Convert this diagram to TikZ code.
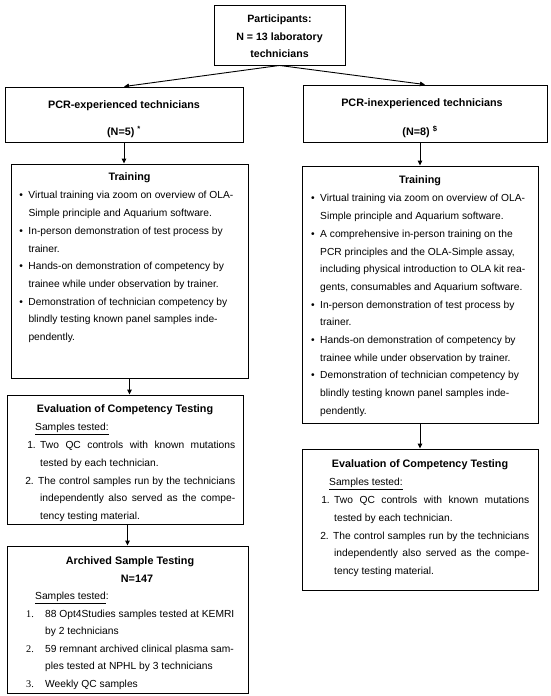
\documentclass[tikz,border=0pt]{standalone}
\usepackage{fontspec}
\setmainfont{Liberation Sans}
\newfontfamily\tnr{Liberation Serif}
\usetikzlibrary{arrows.meta}
\newcommand{\fl}{\rule{0pt}{10pt}}
\newcommand{\bul}{\llap{\textbullet\hspace{5.5pt}}}
\newcommand{\numa}[1]{\llap{#1\hspace{4.4pt}}}
\newcommand{\numb}[1]{\llap{{\tnr #1}\hspace{11.3pt}}}
\begin{document}
\begin{tikzpicture}[x=1pt,y=-1pt,
  box/.style={draw, line width=0.9pt, inner sep=0pt},
  arr/.style={draw, line width=0.9pt, -{Triangle[length=5pt,width=4.5pt]}},
  ttl/.style={anchor=base, inner sep=0pt, font=\fontsize{10.8}{17.5}\selectfont\bfseries},
  body/.style={anchor=north west, inner sep=0pt, align=left, font=\fontsize{10.25}{17.7}\selectfont},
]
\useasboundingbox (0,0) rectangle (550,696);
\fill[white] (0,0) rectangle (550,696);

% top
\node[box, minimum width=131pt, minimum height=60pt] (top) at (279.5,35) {};
\node[ttl, align=center, anchor=north, font=\fontsize{10.6}{17.5}\selectfont\bfseries] (toptxt) at (279.5,12.5) {\fl Participants:\\N = 13 laboratory\\technicians};

% experienced
\node[box, minimum width=238pt, minimum height=55pt] (exp) at (124,114.5) {};
\node[ttl] (expa) at (124,108.5) {PCR-experienced technicians};
\node[ttl] (expb) at (124,135) {(N=5) \textsuperscript{*}};

% inexperienced
\node[box, minimum width=244pt, minimum height=57pt] (inexp) at (425,113.5) {};
\node[ttl] (inexpa) at (422,106.5) {PCR-inexperienced technicians};
\node[ttl] (inexpb) at (420,135) {(N=8) \textsuperscript{\$}};

% training left
\node[box, minimum width=237pt, minimum height=214pt] (train1) at (129.5,271) {};
\node[ttl] (train1t) at (129.5,180.7) {Training};
\node[body] (train1b) at (28.3,188.7) {\fl\bul Virtual training via zoom on overview of OLA-\\
Simple principle and Aquarium software.\\
\bul In-person demonstration of test process by\\
trainer.\\
\bul Hands-on demonstration of competency by\\
trainee while under observation by trainer.\\
\bul Demonstration of technician competency by\\
blindly testing known panel samples inde-\\
pendently.};

% training right
\node[box, minimum width=236pt, minimum height=257pt] (train2) at (420,294.5) {};
\node[ttl] (train2t) at (420,183.7) {Training};
\node[body] (train2b) at (320,191.7) {\fl\bul Virtual training via zoom on overview of OLA-\\
Simple principle and Aquarium software.\\
\bul A comprehensive in-person training on the\\
PCR principles and the OLA-Simple assay,\\
including physical introduction to OLA kit rea-\\
gents, consumables and Aquarium software.\\
\bul In-person demonstration of test process by\\
trainer.\\
\bul Hands-on demonstration of competency by\\
trainee while under observation by trainer.\\
\bul Demonstration of technician competency by\\
blindly testing known panel samples inde-\\
pendently.};

% evaluation left
\node[box, minimum width=236pt, minimum height=129pt] (eval1) at (125,459.5) {};
\node[ttl] (eval1t) at (125,412.7) {Evaluation of Competency Testing};
\node[body] (eval1b) at (40,420.7) {\fl\hspace*{-5pt}\underline{Samples tested:}\\
\numa{1.}\makebox[195pt][s]{Two QC controls with known mutations}\\
tested by each technician.\\
\hspace*{-2pt}\numa{2.}\makebox[197pt][s]{The control samples run by the technicians}\\
\makebox[195pt][s]{independently also served as the compe-}\\
tency testing material.};

% evaluation right
\node[box, minimum width=236pt, minimum height=141pt] (eval2) at (420,519.5) {};
\node[ttl] (eval2t) at (420,467.7) {Evaluation of Competency Testing};
\node[body] (eval2b) at (334,475.7) {\fl\hspace*{-5pt}\underline{Samples tested:}\\
\numa{1.}\makebox[195pt][s]{Two QC controls with known mutations}\\
tested by each technician.\\
\hspace*{-1pt}\numa{2.}\makebox[196pt][s]{The control samples run by the technicians}\\
\makebox[195pt][s]{independently also served as the compe-}\\
tency testing material.};

% archived
\node[box, minimum width=241pt, minimum height=147pt] (arch) at (127.5,619.5) {};
\node[ttl] (archt) at (130,564.7) {Archived Sample Testing};
\node[ttl] (archn) at (137,582.2) {N=147};
\node[body, font=\fontsize{10.25}{17.5}\selectfont] (archb) at (45,589.7) {\fl\hspace*{-10pt}\underline{Samples tested}:\\
\numb{1.}88 Opt4Studies samples tested at KEMRI\\
by 2 technicians\\
\numb{2.}59 remnant archived clinical plasma sam-\\
ples tested at NPHL by 3 technicians\\
\numb{3.}Weekly QC samples};

% connectors
\draw[arr] (top.south) -- (exp.north);
\draw[arr] (top.south) -- (inexp.north);
\draw[arr] (exp.south) -- (exp.south |- train1.north);
\draw[arr] (inexp.south -| train2.north) -- (train2.north);
\draw[arr] (train1.south) -- (train1.south |- eval1.north);
\draw[arr] (train2.south) -- (eval2.north);
\draw[arr] (eval1.south -| arch.north) -- (arch.north);
\end{tikzpicture}
\end{document}
